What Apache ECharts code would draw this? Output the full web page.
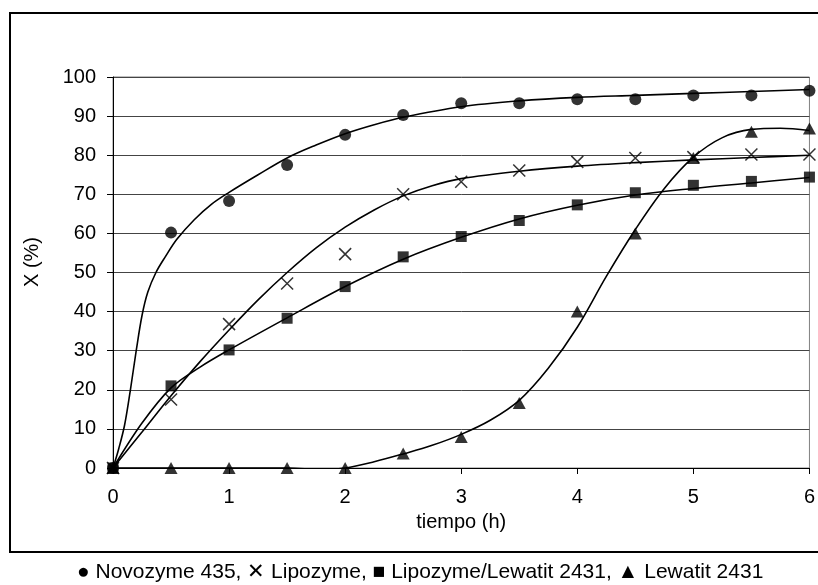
<!DOCTYPE html>
<html>
<head>
<meta charset="utf-8">
<script src="https://cdn.jsdelivr.net/npm/echarts@6/dist/echarts.min.js"></script>
<style>html,body{margin:0;padding:0;background:#fff}#c{width:818px;height:585px}</style>
</head>
<body>
<div id="c"></div>
<script>
// measured points: time (h)
var times = [0, 0.5, 1, 1.5, 2, 2.5, 3, 3.5, 4, 4.5, 5, 5.5, 6];
var novozyme = [0, 60.2, 68.3, 77.5, 85.2, 90.3, 93.3, 93.3, 94.3, 94.3, 95.3, 95.3, 96.5];
var lipozyme = [0, 17.5, 36.8, 47.2, 54.7, 70.0, 73.2, 76.1, 78.3, 79.3, 79.5, 80.2, 80.2];
var lipoLewatit = [0, 21.0, 30.2, 38.3, 46.4, 54.0, 59.2, 63.3, 67.3, 70.4, 72.3, 73.3, 74.4];
var lewatit = [0, 0, 0, 0, 0, 3.7, 7.9, 16.6, 40.0, 60.0, 79.3, 86.0, 86.8];

// fitted trend curves: [time, value]
var fitNovozyme = [[0,0],[0.05,5],[0.1,11],[0.15,20],[0.2,30],[0.25,39],[0.3,45],[0.37,50],[0.45,54],[0.55,58.5],[0.7,63.5],[0.85,67.5],[1,70.5],[1.25,75],[1.5,79.3],[1.75,82.6],[2,85.5],[2.25,87.8],[2.5,89.7],[3,92.4],[3.5,93.9],[4,94.8],[4.5,95.3],[5,95.8],[5.5,96.3],[6,96.8]];
var fitLipozyme = [[0,0],[0.25,9.2],[0.5,18.5],[0.75,27.2],[1,35.3],[1.25,43],[1.5,50],[1.75,56.3],[2,61.6],[2.25,66],[2.5,69.6],[2.75,72.2],[3,74],[3.5,75.9],[4,77.2],[4.5,78.1],[5,78.8],[5.5,79.4],[6,80]];
var fitLipoLewatit = [[0,0],[0.25,11.5],[0.5,20.5],[0.75,25.8],[1,30.2],[1.5,38.4],[2,46.4],[2.5,53.4],[3,59],[3.5,63.7],[4,67.2],[4.5,69.8],[5,71.5],[5.5,72.9],[6,74.3]];
var fitLewatit = [[0,0],[0.5,0],[1,0],[1.5,0],[1.8,-0.4],[2,0],[2.25,1.6],[2.5,3.6],[2.75,5.8],[3,8.6],[3.25,12.2],[3.5,17.3],[3.75,25.5],[4,36],[4.25,49],[4.5,61],[4.75,71.5],[5,79.5],[5.25,84.5],[5.5,86.6],[5.75,86.9],[6,86.3]];

var yTicks = [0,10,20,30,40,50,60,70,80,90,100];
var xTicks = [0,1,2,3,4,5,6];
var xTitle = 'tiempo (h)';
var yTitle = 'X (%)';
var legendText = '\u25CF Novozyme 435, \u2715 Lipozyme, \u25A0 Lipozyme/Lewatit 2431, \u25B2 Lewatit 2431';

function pairs(vals){ return times.map(function(t,i){ return [t, vals[i]]; }); }

var FONT = 'Liberation Sans, Arial, sans-serif';
var chart = echarts.init(document.getElementById('c'));
var curveStyle = {color:'#000', width:1.6};
var SM = 0.35;
var option = {
  animation: false,
  backgroundColor: '#fff',
  textStyle: {fontFamily: FONT},
  graphic: [
    {type:'rect', shape:{x:10, y:13, width:830, height:539}, style:{fill:'none', stroke:'#000', lineWidth:2}, z:-1},
    {type:'text', left:77, top:562, style:{text:legendText, font:'21px ' + FONT, fill:'#000'}},
    {type:'text', x:32, y:262, rotation:Math.PI/2, style:{text:yTitle, font:'20px ' + FONT, fill:'#000', align:'center', verticalAlign:'middle'}}
  ],
  grid: {left:113, top:77, right:6, bottom:117, show:true, borderColor:'#808080', borderWidth:1, backgroundColor:'transparent'},
  xAxis: {
    type:'value', min:0, max:6, interval:1,
    name:xTitle, nameLocation:'middle', nameGap:44,
    nameTextStyle:{fontSize:20, color:'#000', fontFamily:FONT},
    axisLine:{show:true, lineStyle:{color:'#000', width:1}},
    axisTick:{show:true, inside:false, length:6, lineStyle:{color:'#000'}},
    axisLabel:{fontSize:20, color:'#000', margin:19, fontFamily:FONT, formatter:function(v){return xTicks.indexOf(v)>=0?String(v):'';}},
    splitLine:{show:false}
  },
  yAxis: {
    type:'value', min:0, max:100, interval:10,
    axisLine:{show:true, lineStyle:{color:'#000', width:1}},
    axisTick:{show:true, inside:false, length:6, lineStyle:{color:'#000'}},
    axisLabel:{fontSize:20, color:'#000', margin:17, fontFamily:FONT, formatter:function(v){return yTicks.indexOf(v)>=0?String(v):'';}},
    splitLine:{show:true, lineStyle:{color:'#444', width:1}}
  },
  series: [
    {type:'line', data:fitNovozyme, smooth:SM, symbol:'none', lineStyle:curveStyle, clip:true},
    {type:'line', data:fitLipozyme, smooth:SM, symbol:'none', lineStyle:curveStyle, clip:true},
    {type:'line', data:fitLipoLewatit, smooth:SM, symbol:'none', lineStyle:curveStyle, clip:true},
    {type:'line', data:fitLewatit, smooth:SM, symbol:'none', lineStyle:curveStyle, clip:true},
    {type:'scatter', name:'Novozyme 435', data:pairs(novozyme), symbol:'circle', symbolSize:12, itemStyle:{color:'#000'}, clip:false, z:5},
    {type:'scatter', name:'Lipozyme', data:pairs(lipozyme), symbol:'path://M0,0L10,10M10,0L0,10', symbolSize:12, itemStyle:{color:'none', borderColor:'#000', borderWidth:1.5}, clip:false, z:5},
    {type:'scatter', name:'Lipozyme/Lewatit 2431', data:pairs(lipoLewatit), symbol:'rect', symbolSize:11, itemStyle:{color:'#000'}, clip:false, z:5},
    {type:'scatter', name:'Lewatit 2431', data:pairs(lewatit), symbol:'triangle', symbolSize:[13,12], itemStyle:{color:'#000'}, clip:false, z:5}
  ]
};
chart.setOption(option);
</script>
</body>
</html>
